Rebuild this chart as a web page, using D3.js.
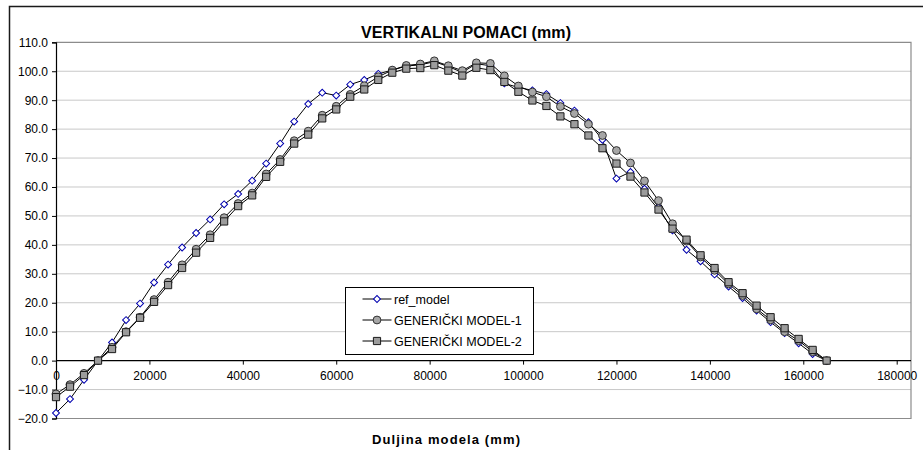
<!DOCTYPE html>
<html>
<head>
<meta charset="utf-8">
<script src="https://cdn.jsdelivr.net/npm/d3@7"></script>
<style>
  body { margin: 0; background: #fff; }
  svg { display: block; font-family: "Liberation Sans", Arial, sans-serif; }
</style>
</head>
<body>
<svg id="chart" width="923" height="450"></svg>
<script>
// x positions along the model (mm)
const duljina = [
  0, 3000, 6000, 9000, 12000, 15000, 18000, 21000, 24000, 27000,
  30000, 33000, 36000, 39000, 42000, 45000, 48000, 51000, 54000, 57000,
  60000, 63000, 66000, 69000, 72000, 75000, 78000, 81000, 84000, 87000,
  90000, 93000, 96000, 99000, 102000, 105000, 108000, 111000, 114000, 117000,
  120000, 123000, 126000, 129000, 132000, 135000, 138000, 141000, 144000, 147000,
  150000, 153000, 156000, 159000, 162000, 165000
];

const refModel = [
  -18.1, -13.3, -6.6, 0.0, 6.3, 14.0, 19.7, 27.0, 33.2, 39.1,
  44.1, 48.8, 54.0, 57.6, 62.2, 68.1, 75.0, 82.6, 88.7, 92.6,
  91.6, 95.4, 97.0, 99.1, 100.4, 101.8, 102.2, 103.3, 101.6, 99.6,
  102.6, 101.9, 95.8, 94.4, 93.4, 92.1, 89.0, 86.4, 82.4, 76.3,
  62.9, 65.2, 59.4, 53.0, 45.0, 38.3, 34.3, 29.8, 25.6, 21.6,
  17.3, 13.3, 9.5, 6.0, 2.3, 0.0
];

const generickiModel1 = [
  -11.5, -8.3, -4.4, 0.0, 4.6, 10.0, 15.0, 21.1, 27.1, 33.1,
  38.5, 43.5, 49.4, 54.3, 57.9, 64.5, 69.5, 76.0, 79.3, 84.8,
  87.9, 92.0, 95.0, 98.1, 100.4, 102.0, 102.5, 103.6, 101.9, 100.2,
  102.9, 102.7, 98.4, 94.9, 92.8, 91.2, 87.8, 85.4, 81.7, 77.8,
  72.6, 68.3, 62.1, 55.3, 47.3, 41.3, 35.8, 31.2, 26.5, 22.5,
  17.9, 14.1, 10.0, 6.9, 3.1, 0.0
];

const generickiModel2 = [
  -12.6, -9.0, -5.0, 0.0, 4.0, 9.8, 14.8, 20.3, 26.1, 32.0,
  37.3, 42.4, 48.1, 53.4, 57.1, 63.5, 68.7, 75.0, 78.1, 83.7,
  86.8, 91.2, 93.7, 97.0, 99.5, 100.9, 101.1, 102.1, 100.2, 98.5,
  101.2, 100.4, 96.3, 92.9, 89.9, 88.0, 84.4, 81.7, 77.8, 73.4,
  68.1, 63.6, 58.1, 52.2, 45.6, 41.8, 36.4, 32.0, 27.1, 23.3,
  19.0, 15.0, 11.2, 7.5, 3.7, 0.0
];

const seriesNames = ['ref_model', 'GENERIČKI MODEL-1', 'GENERIČKI MODEL-2'];
const yTicks = [-20, -10, 0, 10, 20, 30, 40, 50, 60, 70, 80, 90, 100, 110];
const xTicks = [0, 20000, 40000, 60000, 80000, 100000, 120000, 140000, 160000, 180000];

const svg = d3.select('#chart');

const plotLeft = 56, plotRight = 911, plotTop = 42.3, plotBottom = 418.5;

const x = d3.scaleLinear().domain([0, 180000]).range([plotLeft, 896.7]);
const y = d3.scaleLinear().domain([-20, 110]).range([plotBottom, plotTop]);

// outer chart border
svg.append('rect')
  .attr('x', 9.5).attr('y', 6.5)
  .attr('width', 940).attr('height', 470)
  .attr('fill', 'none')
  .attr('stroke', '#1a1a1a')
  .attr('stroke-width', 1.5);

// title
svg.append('text')
  .attr('x', 466).attr('y', 37.5)
  .attr('text-anchor', 'middle')
  .attr('font-size', 16)
  .attr('font-weight', 'bold')
  .attr('textLength', 210)
  .text('VERTIKALNI POMACI (mm)');

// gridlines
svg.append('g')
  .selectAll('line')
  .data(yTicks.filter(d => d !== 0 && d !== 110 && d !== -20))
  .join('line')
    .attr('x1', plotLeft).attr('x2', plotRight)
    .attr('y1', d => y(d)).attr('y2', d => y(d))
    .attr('stroke', '#c8c8c8')
    .attr('stroke-width', 1);

// plot area border (top, right, bottom)
svg.append('path')
  .attr('d', `M${plotLeft},${y(110)}H${plotRight}V${y(-20)}H${plotLeft}`)
  .attr('fill', 'none')
  .attr('stroke', '#8c8c8c')
  .attr('stroke-width', 1.2);

// y axis
const yAxis = svg.append('g')
  .attr('transform', `translate(${plotLeft},0)`)
  .call(d3.axisLeft(y).tickValues(yTicks).tickFormat(d3.format('.1f')).tickSize(4).tickPadding(4));
yAxis.select('.domain').attr('stroke', '#000').attr('stroke-width', 1.2);
yAxis.selectAll('.tick line').attr('stroke', '#000');
yAxis.selectAll('text').attr('font-size', 12).attr('fill', '#000')
  .attr('font-family', '"Liberation Sans", Arial, sans-serif');

// x axis crossing at zero
const xAxis = svg.append('g')
  .attr('transform', `translate(0,${y(0)})`)
  .call(d3.axisBottom(x).tickValues(xTicks).tickFormat(d3.format('d')).tickSize(4).tickPadding(7).tickSizeOuter(0));
xAxis.select('.domain').attr('d', `M${plotLeft},0H${plotRight}`).attr('stroke', '#000').attr('stroke-width', 1.2);
xAxis.selectAll('.tick line').attr('stroke', '#000');
xAxis.selectAll('text').attr('font-size', 12).attr('fill', '#000')
  .attr('font-family', '"Liberation Sans", Arial, sans-serif');

// x axis title
svg.append('text')
  .attr('x', 446).attr('y', 444)
  .attr('text-anchor', 'middle')
  .attr('font-size', 13)
  .attr('font-weight', 'bold')
  .attr('textLength', 148)
  .text('Duljina modela (mm)');

const line = d3.line()
  .x(d => x(d[0]))
  .y(d => y(d[1]));

// diamond drawn as a square turned 45 degrees
const styles = [
  {values: refModel, shape: d3.symbolSquare, rot: 45, size: 24, fill: '#fff', stroke: '#0000b0'},
  {values: generickiModel1, shape: d3.symbolCircle, rot: 0, size: 48, fill: '#a6a6a6', stroke: '#333'},
  {values: generickiModel2, shape: d3.symbolSquare, rot: 0, size: 52, fill: '#9c9c9c', stroke: '#1a1a1a'}
];

styles.forEach(s => {
  const pts = duljina.map((d, i) => [d, s.values[i]]);
  const g = svg.append('g');
  g.append('path')
    .datum(pts)
    .attr('d', line)
    .attr('fill', 'none')
    .attr('stroke', '#000')
    .attr('stroke-width', 1);
  g.selectAll('path.pt')
    .data(pts)
    .join('path')
      .attr('class', 'pt')
      .attr('transform', d => `translate(${x(d[0])},${y(d[1])}) rotate(${s.rot})`)
      .attr('d', d3.symbol().type(s.shape).size(s.size))
      .attr('fill', s.fill)
      .attr('stroke', s.stroke)
      .attr('stroke-width', 1);
});

// legend
const legend = svg.append('g');
legend.append('rect')
  .attr('x', 345.5).attr('y', 287.5)
  .attr('width', 188).attr('height', 67)
  .attr('fill', '#fff')
  .attr('stroke', '#000')
  .attr('stroke-width', 1);

const legendY = [299, 320, 341];
styles.forEach((s, i) => {
  const row = legend.append('g').attr('transform', `translate(0,${legendY[i]})`);
  row.append('line')
    .attr('x1', 362.5).attr('x2', 391.5)
    .attr('stroke', '#000').attr('stroke-width', 1);
  row.append('path')
    .attr('transform', `translate(377,0) rotate(${s.rot})`)
    .attr('d', d3.symbol().type(s.shape).size(s.size))
    .attr('fill', s.fill)
    .attr('stroke', s.stroke);
  row.append('text')
    .attr('x', 394).attr('y', 4.5)
    .attr('font-size', 12.5)
    .text(seriesNames[i]);
});
</script>
</body>
</html>
